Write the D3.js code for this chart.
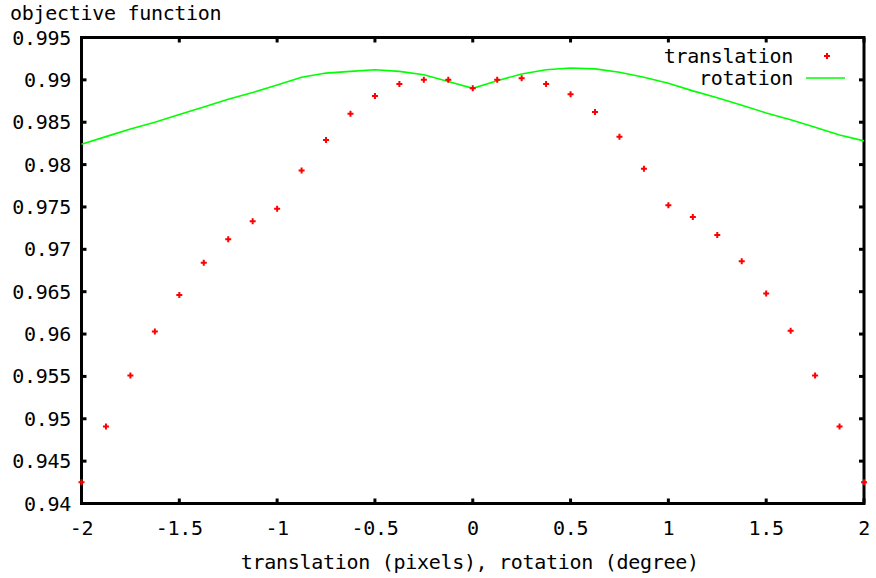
<!DOCTYPE html>
<html><head><meta charset="utf-8">
<script src="https://cdn.jsdelivr.net/npm/d3@7"></script>
<style>
body{margin:0;background:#fff;}
text{font-family:"DejaVu Sans Mono",monospace;font-size:20px;letter-spacing:-0.3px;fill:#000;}
</style></head><body>
<svg id="c" width="876" height="578"></svg>
<script>
const xs = [-2,-1.875,-1.75,-1.625,-1.5,-1.375,-1.25,-1.125,-1,-0.875,-0.75,-0.625,-0.5,-0.375,-0.25,-0.125,0,0.125,0.25,0.375,0.5,0.625,0.75,0.875,1,1.125,1.25,1.375,1.5,1.625,1.75,1.875,2];
const translation = [0.9425,0.9491,0.9551,0.9603,0.9646,0.9684,0.9712,0.9733,0.9748,0.9793,0.9829,0.9860,0.9881,0.9895,0.9900,0.9900,0.9890,0.9900,0.9902,0.9895,0.9883,0.9862,0.9833,0.9795,0.9752,0.9738,0.9717,0.9686,0.9648,0.9604,0.9551,0.9491,0.9425];
const rotation = [0.9824,0.9833,0.9842,0.9850,0.9859,0.9868,0.9877,0.9885,0.9894,0.9903,0.9908,0.9910,0.9912,0.9910,0.9906,0.9898,0.9890,0.9899,0.9907,0.9912,0.9914,0.9913,0.9909,0.9903,0.9896,0.9887,0.9879,0.9870,0.9861,0.9853,0.9844,0.9835,0.9828];
const xTicks = [-2,-1.5,-1,-0.5,0,0.5,1,1.5,2];
const xTickLabels = ["-2","-1.5","-1","-0.5","0","0.5","1","1.5","2"];
const yTicks = [0.94,0.945,0.95,0.955,0.96,0.965,0.97,0.975,0.98,0.985,0.99,0.995];
const yTickLabels = ["0.94","0.945","0.95","0.955","0.96","0.965","0.97","0.975","0.98","0.985","0.99","0.995"];
const seriesNames = ["translation","rotation"];
const yTitle = "objective function";
const xTitle = "translation (pixels), rotation (degree)";

const L=81.5, R=864, T=37.5, B=503.5;
const svg = d3.select("#c");
const x = d3.scaleLinear().domain([-2,2]).range([L,R]);
const y = d3.scaleLinear().domain([0.94,0.995]).range([B,T]);

// border
svg.append("rect").attr("x",L).attr("y",T).attr("width",R-L).attr("height",B-T)
  .attr("fill","none").attr("stroke","#000").attr("stroke-width",3);

// ticks (inward, mirrored)
const tk = 5;
const g = svg.append("g").attr("stroke","#000").attr("stroke-width",3);
xTicks.forEach(v=>{
  g.append("line").attr("x1",x(v)).attr("x2",x(v)).attr("y1",B).attr("y2",B-tk);
  g.append("line").attr("x1",x(v)).attr("x2",x(v)).attr("y1",T).attr("y2",T+tk);
});
yTicks.forEach(v=>{
  g.append("line").attr("x1",L).attr("x2",L+tk).attr("y1",y(v)).attr("y2",y(v));
  g.append("line").attr("x1",R).attr("x2",R-tk).attr("y1",y(v)).attr("y2",y(v));
});

// labels
svg.append("g").selectAll("text").data(xTicks).join("text")
  .attr("x",d=>x(d)).attr("y",B+24).attr("dy","0.35em").attr("text-anchor","middle")
  .text((d,i)=>xTickLabels[i]);
svg.append("g").selectAll("text").data(yTicks).join("text")
  .attr("x",71).attr("y",d=>y(d)).attr("dy","0.35em").attr("text-anchor","end")
  .text((d,i)=>yTickLabels[i]);
svg.append("text").attr("x",10).attr("y",13).attr("dy","0.35em").text(yTitle);
svg.append("text").attr("x",(L+R)/2 - 3).attr("y",562).attr("dy","0.35em").attr("text-anchor","middle").text(xTitle);

// rotation line
const line = d3.line().x((d,i)=>x(xs[i])).y(d=>y(d));
svg.append("path").datum(rotation).attr("d",line).attr("fill","none").attr("stroke","#00ff00").attr("stroke-width",1.6);

// translation points
const plus = (cx,cy)=>`M${cx-3},${cy}H${cx+3}M${cx},${cy-3}V${cy+3}`;
svg.append("g").selectAll("path").data(translation).join("path")
  .attr("d",(d,i)=>plus(x(xs[i]),y(d))).attr("stroke","#ff0000").attr("stroke-width",2).attr("fill","none");

// legend
svg.append("text").attr("x",793).attr("y",56).attr("dy","0.35em").attr("text-anchor","end").text(seriesNames[0]);
svg.append("path").attr("d",plus(827,56)).attr("stroke","#ff0000").attr("stroke-width",2);
svg.append("text").attr("x",793).attr("y",78).attr("dy","0.35em").attr("text-anchor","end").text(seriesNames[1]);
svg.append("line").attr("x1",806).attr("x2",845).attr("y1",78).attr("y2",78).attr("stroke","#00ff00").attr("stroke-width",1.6);
</script></body></html>
